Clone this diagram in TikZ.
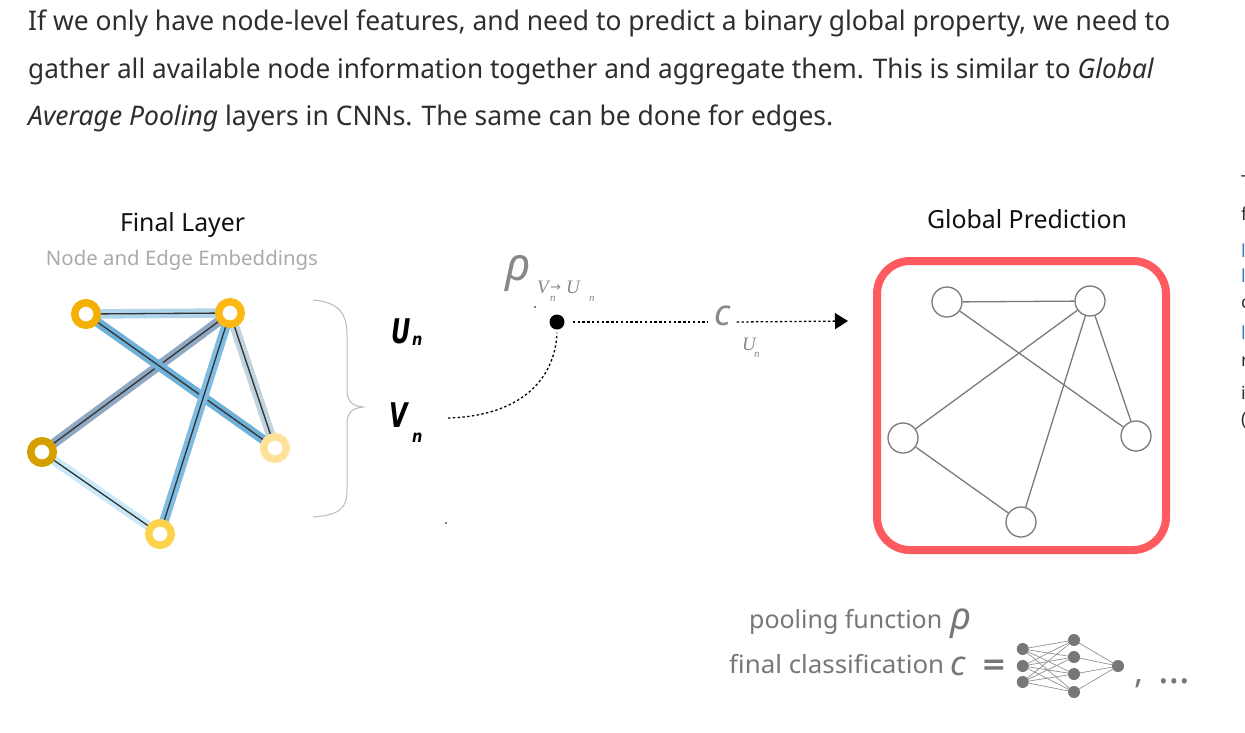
\documentclass[tikz,border=0pt]{standalone}
\usepackage{fontspec}
\usepackage{graphicx}
\setmainfont{Noto Sans}
\newfontfamily\serf{Liberation Serif}
\newfontfamily\dvb{DejaVu Sans}
\usetikzlibrary{arrows.meta}
\pgfdeclarelayer{bglayer}
\pgfdeclarelayer{edgelayer}
\pgfsetlayers{bglayer,edgelayer,main}
\definecolor{hdtext}{HTML}{2E2E2E}
\definecolor{lbblack}{HTML}{111111}
\definecolor{lgray}{HTML}{AAAAAA}
\definecolor{bracegray}{HTML}{BBBBBB}
\definecolor{mgray}{HTML}{777777}
\definecolor{sgray}{HTML}{888888}
\definecolor{gline}{HTML}{7A7A7A}
\definecolor{boxred}{HTML}{FF5A5F}
\definecolor{ringA}{HTML}{F4B000}
\definecolor{ringB}{HTML}{FDB813}
\definecolor{ringC}{HTML}{D4A000}
\definecolor{ringD}{HTML}{FFE29A}
\definecolor{ringE}{HTML}{FFD24D}
\definecolor{eAB}{HTML}{B0D5EA}
\definecolor{eAD}{HTML}{6DB0D8}
\definecolor{eBC}{HTML}{8FA9C4}
\definecolor{eBD}{HTML}{BFD4E0}
\definecolor{eBE}{HTML}{7EBCE2}
\definecolor{eCE}{HTML}{C9E8F8}
\definecolor{sideblue}{HTML}{3B7DC4}
\newcommand{\fitw}[2]{\resizebox{#1}{\height}{#2}}
\begin{document}
\begin{tikzpicture}[x=1pt,y=-1pt,
  ring/.style={circle,minimum size=22.5pt,inner sep=0pt,line width=7.5pt,fill=white},
  gnode/.style={circle,draw=gline,line width=1.3pt,fill=white,minimum size=30pt,inner sep=0pt},
  gedge/.style={draw=gline,line width=1.3pt},
  band/.style={line width=9.5pt},
  core/.style={draw=black!80,line width=1.3pt},
  dotline/.style={line width=1.3pt,dash pattern=on 2.4pt off 2.4pt},
  nn/.style={circle,fill=mgray,minimum size=12pt,inner sep=0pt},
  nnl/.style={draw=mgray!80,line width=0.7pt},
  txt/.style={inner sep=0pt,anchor=base west},
  ctxt/.style={inner sep=0pt,anchor=base},
]
\begin{pgfonlayer}{bglayer}
\fill[white] (0,0) rectangle (1245,732);
\end{pgfonlayer}
\useasboundingbox (0,0) rectangle (1245,732);

% header paragraph
\node[txt,text=hdtext] (h1) at (28,30) {\fitw{1142pt}{\fontsize{27}{32}\selectfont If we only have node-level features, and need to predict a binary global property, we need to}};
\node[txt,text=hdtext] (h2) at (28,78) {\fitw{1126pt}{\fontsize{27}{32}\selectfont gather all available node information together and aggregate them. This is similar to \textit{Global}}};
\node[txt,text=hdtext] (h3) at (28,125) {\fitw{805pt}{\fontsize{27}{32}\selectfont \textit{Average Pooling} layers in CNNs. The same can be done for edges.}};

% clipped sidebar text at right edge
\node[txt,text=hdtext] (s1) at (1241,188) {\fontsize{18}{20}\selectfont T};
\node[txt,text=hdtext] (s2) at (1241,220) {\fontsize{18}{20}\selectfont f};
\node[txt,text=sideblue] (s3) at (1241,257) {\fontsize{18}{20}\selectfont l};
\node[txt,text=sideblue] (s4) at (1241,282) {\fontsize{18}{20}\selectfont l};
\node[txt,text=hdtext] (s5) at (1241,308) {\fontsize{18}{20}\selectfont c};
\node[txt,text=sideblue] (s6) at (1241,339) {\fontsize{18}{20}\selectfont l};
\node[txt,text=hdtext] (s7) at (1241,366) {\fontsize{18}{20}\selectfont r};
\node[txt,text=hdtext] (s8) at (1241,399) {\fontsize{18}{20}\selectfont i};
\node[txt,text=hdtext] (s9) at (1241,425) {\fontsize{18}{20}\selectfont (};

% titles
\node[ctxt,text=lbblack] (fl) at (182.5,231) {\fitw{125pt}{\fontsize{25}{28}\selectfont Final Layer}};
\node[ctxt,text=lgray] (ne) at (182,265) {\fitw{272pt}{\fontsize{20}{24}\selectfont Node and Edge Embeddings}};
\node[ctxt,text=lbblack] (gp) at (1027,228) {\fitw{200pt}{\fontsize{25}{28}\selectfont Global Prediction}};

% left graph
\node[ring,draw=ringA] (A) at (86,314) {};
\node[ring,draw=ringB] (B) at (230,313) {};
\node[ring,draw=ringC] (C) at (42,452) {};
\node[ring,draw=ringD] (D) at (275,448) {};
\node[ring,draw=ringE] (E) at (160,534) {};
\begin{pgfonlayer}{edgelayer}
\foreach \u/\v/\c in {B/C/eBC, A/B/eAB, C/E/eCE, B/D/eBD, A/D/eAD, B/E/eBE} {
  \draw[band,draw=\c] (\u.center) -- (\v.center);
  \draw[core] (\u.center) -- (\v.center);
}
\end{pgfonlayer}

% brace
\draw[bracegray,line width=1pt] (313,300) .. controls (340,302) and (347,315) .. (347,335) -- (347,390) .. controls (347,401) and (352,406) .. (363,407) .. controls (352,408) and (347,413) .. (347,424) -- (347,490) .. controls (347,508) and (340,515) .. (313,517);

% U_n, V_n
\node[txt,text=black] (U) at (391,343) {\scalebox{0.7}[1]{\fontsize{34}{36}\dvb\bfseries\itshape U}};
\node[txt,text=black] (Un) at (412,345) {\scalebox{0.85}[1]{\fontsize{17}{18}\dvb\bfseries\itshape n}};
\node[txt,text=black] (V) at (389,427) {\scalebox{0.7}[1]{\fontsize{34}{36}\dvb\bfseries\itshape V}};
\node[txt,text=black] (Vn) at (412,442) {\scalebox{0.85}[1]{\fontsize{17}{18}\dvb\bfseries\itshape n}};

% pooling dot and labels
\node[circle,fill=black,minimum size=15pt,inner sep=0pt] (dot) at (557,322) {};
\node[txt,text=sgray] (rho) at (505,280) {\fontsize{46}{48}\selectfont\itshape ρ};
\node[txt,text=sgray] (sV) at (537,293) {\fontsize{19}{20}\serf\itshape V};
\node[txt,text=sgray] (sVn) at (550,301) {\fontsize{11}{12}\serf\itshape n};
\node[txt,text=sgray] (sarr) at (550,291) {\fontsize{13}{14}\dvb →};
\node[txt,text=sgray] (sU) at (566,293) {\fontsize{19}{20}\serf\itshape U};
\node[txt,text=sgray] (sUn) at (589,301) {\fontsize{11}{12}\serf\itshape n};
\node[txt,text=sgray] (c) at (714,325) {\fontsize{36}{38}\selectfont\itshape c};
\node[txt,text=sgray] (cU) at (742,350) {\fontsize{19}{20}\serf\itshape U};
\node[txt,text=sgray] (cUn) at (754,357) {\fontsize{11}{12}\serf\itshape n};

\fill[black] (535,307) circle[radius=0.8pt];
\fill[black] (446,523) circle[radius=0.8pt];

\draw[dotline,shorten <=8pt,shorten >=6pt] (dot.east) -- (c.west |- dot.east);
\coordinate (tip) at (848,321);
\draw[dotline,-{Triangle[length=13pt,width=16pt]}] ([xshift=6pt]c.east |- dot.east) -- (tip);
\coordinate (vstart) at (448,418);
\draw[dotline] (vstart) .. controls (520,416) and (555,380) .. ([yshift=-3pt]dot.south);

% right graph
\node[draw=boxred,line width=8pt,rounded corners=33pt,minimum width=289pt,minimum height=289pt,inner sep=0pt] (box) at (1021.5,405.5) {};
\node[gnode] (g1) at (947,302) {};
\node[gnode] (g2) at (1090,301) {};
\node[gnode] (g3) at (903,438) {};
\node[gnode] (g4) at (1136,436) {};
\node[gnode] (g5) at (1021,522) {};
\foreach \u/\v in {g1/g2, g1/g4, g2/g3, g2/g4, g2/g5, g3/g5}
  \draw[gedge] (\u) -- (\v);

% legend
\node[txt,text=mgray] (pf) at (749,628) {\fitw{193pt}{\fontsize{25}{28}\selectfont pooling function}};
\node[txt,text=mgray] (prho) at (950,629) {\fontsize{38}{40}\selectfont\itshape ρ};
\node[txt,text=mgray] (fc) at (729,673) {\fitw{215pt}{\fontsize{25}{28}\selectfont final classification}};
\node[txt,text=mgray] (pc) at (950,675) {\fontsize{34}{36}\selectfont\itshape c};
\node[inner sep=0pt,text=mgray] (eq) at (994,667) {\fontsize{30}{30}\dvb\bfseries =};
\foreach \i/\yy in {1/649,2/666,3/682} \node[nn] (L\i) at (1022.7,\yy) {};
\foreach \i/\yy in {1/640,2/657,3/674,4/692} \node[nn] (M\i) at (1074,\yy) {};
\node[nn] (O) at (1118,666) {};
\begin{pgfonlayer}{edgelayer}
\foreach \i in {1,2,3} \foreach \j in {1,2,3,4} \draw[nnl] (L\i.center) -- (M\j.center);
\foreach \j in {1,2,3,4} \draw[nnl] (M\j.center) -- (O.center);
\end{pgfonlayer}
\node[txt,text=mgray] (etc) at (1134,683) {\fontsize{34}{36}\selectfont ,\hspace{15pt}\fontsize{40}{40}\selectfont …};
\end{tikzpicture}
\end{document}
